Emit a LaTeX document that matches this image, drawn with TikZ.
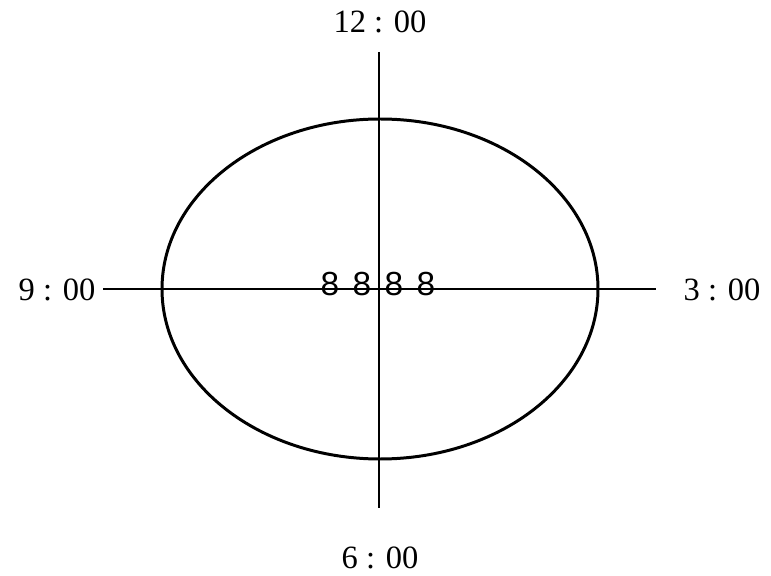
\documentclass[tikz,border=0pt]{standalone}
\usepackage{fontspec}
\setmainfont{Liberation Serif}
\newfontfamily\digitfont{Liberation Sans}
\begin{document}
\begin{tikzpicture}[x=0.02cm, y=0.02cm, line width=1.7pt,
  clock/.style={font=\fontsize{18.5}{20}\selectfont},
  eight/.style={font=\digitfont\fontsize{19}{20}\selectfont, inner sep=0pt}]
  \useasboundingbox (0, 0) rectangle (771, 575);

  \coordinate (O) at (380, 286);
  \draw (O) ellipse [x radius=218, y radius=170];

  \coordinate (N) at (379, 523);
  \coordinate (S) at (379, 67);
  \coordinate (W) at (103, 286);
  \coordinate (E) at (656, 286);

  \draw (N) -- (S);
  \draw (W) -- (E);

  \node[clock] (t12) at (380, 553) {12 : 00};
  \node[clock] (t6) at (380, 17) {6 : 00};
  \node[clock] (t9) at (57, 285) {9 : 00};
  \node[clock] (t3) at (722, 285) {3 : 00};

  \node[eight] (d1) at (330, 291) {8};
  \node[eight] (d2) at (362, 291) {8};
  \node[eight] (d3) at (394, 291) {8};
  \node[eight] (d4) at (426, 291) {8};
\end{tikzpicture}
\end{document}
